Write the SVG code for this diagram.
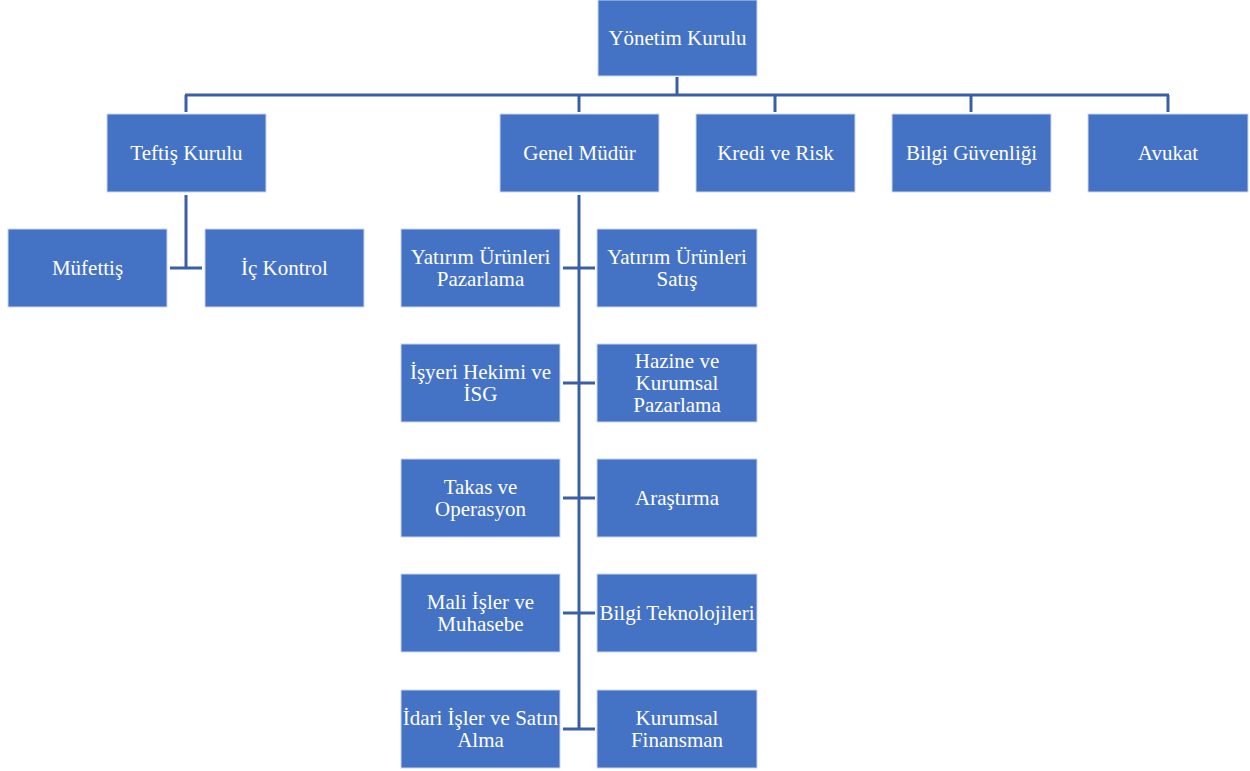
<svg xmlns="http://www.w3.org/2000/svg" width="1250" height="771" viewBox="0 0 1250 771">
<style>
.box{fill:#4472C4;stroke:#C9D6EE;stroke-width:1}
.t{font-family:'Liberation Serif','Times New Roman','DejaVu Serif',serif;font-size:21px;fill:#ffffff;text-anchor:middle}
.c{stroke:#3A5FA6;stroke-width:3;fill:none}
</style>
<rect width="1250" height="771" fill="#ffffff"/>
<g id="connectors">
<path class="c" d="M677,77 V95 M185,95 H1169 M186,95 V112 M579,95 V112 M775,95 V112 M971,95 V112 M1168,95 V112"/>
<path class="c" d="M186,195 V268 M170,268 H202"/>
<path class="c" d="M579,195 V730 M563,268 H595 M563,383 H595 M563,498 H595 M563,613 H595 M563,729 H595"/>
</g>
<g id="n-yonetim"><rect class="box" x="598" y="0" width="159" height="76"/><text class="t" x="677.5" y="45">Yönetim Kurulu</text></g>
<g id="n-teftis"><rect class="box" x="107" y="114" width="159" height="78"/><text class="t" x="186.5" y="160">Teftiş Kurulu</text></g>
<g id="n-genel"><rect class="box" x="500" y="114" width="159" height="78"/><text class="t" x="579.5" y="160">Genel Müdür</text></g>
<g id="n-kredi"><rect class="box" x="696" y="114" width="159" height="78"/><text class="t" x="775.5" y="160">Kredi ve Risk</text></g>
<g id="n-bilgig"><rect class="box" x="892" y="114" width="159" height="78"/><text class="t" x="971.5" y="160">Bilgi Güvenliği</text></g>
<g id="n-avukat"><rect class="box" x="1088" y="114" width="160" height="78"/><text class="t" x="1168" y="160">Avukat</text></g>
<g id="n-mufettis"><rect class="box" x="8" y="229" width="159" height="78"/><text class="t" x="87.5" y="275">Müfettiş</text></g>
<g id="n-ickontrol"><rect class="box" x="205" y="229" width="159" height="78"/><text class="t" x="284.5" y="275">İç Kontrol</text></g>
<g id="n-yup"><rect class="box" x="401" y="229" width="159" height="78"/><text class="t" x="480.5" y="264">Yatırım Ürünleri</text><text class="t" x="480.5" y="286">Pazarlama</text></g>
<g id="n-yus"><rect class="box" x="597" y="229" width="160" height="78"/><text class="t" x="677" y="264">Yatırım Ürünleri</text><text class="t" x="677" y="286">Satış</text></g>
<g id="n-isg"><rect class="box" x="401" y="344" width="159" height="78"/><text class="t" x="480.5" y="379">İşyeri Hekimi ve</text><text class="t" x="480.5" y="401">İSG</text></g>
<g id="n-hazine"><rect class="box" x="597" y="344" width="160" height="78"/><text class="t" x="677" y="368">Hazine ve</text><text class="t" x="677" y="390">Kurumsal</text><text class="t" x="677" y="412">Pazarlama</text></g>
<g id="n-takas"><rect class="box" x="401" y="459" width="159" height="78"/><text class="t" x="480.5" y="494">Takas ve</text><text class="t" x="480.5" y="516">Operasyon</text></g>
<g id="n-arastirma"><rect class="box" x="597" y="459" width="160" height="78"/><text class="t" x="677" y="505">Araştırma</text></g>
<g id="n-mali"><rect class="box" x="401" y="574" width="159" height="78"/><text class="t" x="480.5" y="609">Mali İşler ve</text><text class="t" x="480.5" y="631">Muhasebe</text></g>
<g id="n-bt"><rect class="box" x="597" y="574" width="160" height="78"/><text class="t" x="677" y="620">Bilgi Teknolojileri</text></g>
<g id="n-idari"><rect class="box" x="401" y="690" width="159" height="78"/><text class="t" x="480.5" y="725">İdari İşler ve Satın</text><text class="t" x="480.5" y="747">Alma</text></g>
<g id="n-kf"><rect class="box" x="597" y="690" width="160" height="78"/><text class="t" x="677" y="725">Kurumsal</text><text class="t" x="677" y="747">Finansman</text></g>
</svg>
